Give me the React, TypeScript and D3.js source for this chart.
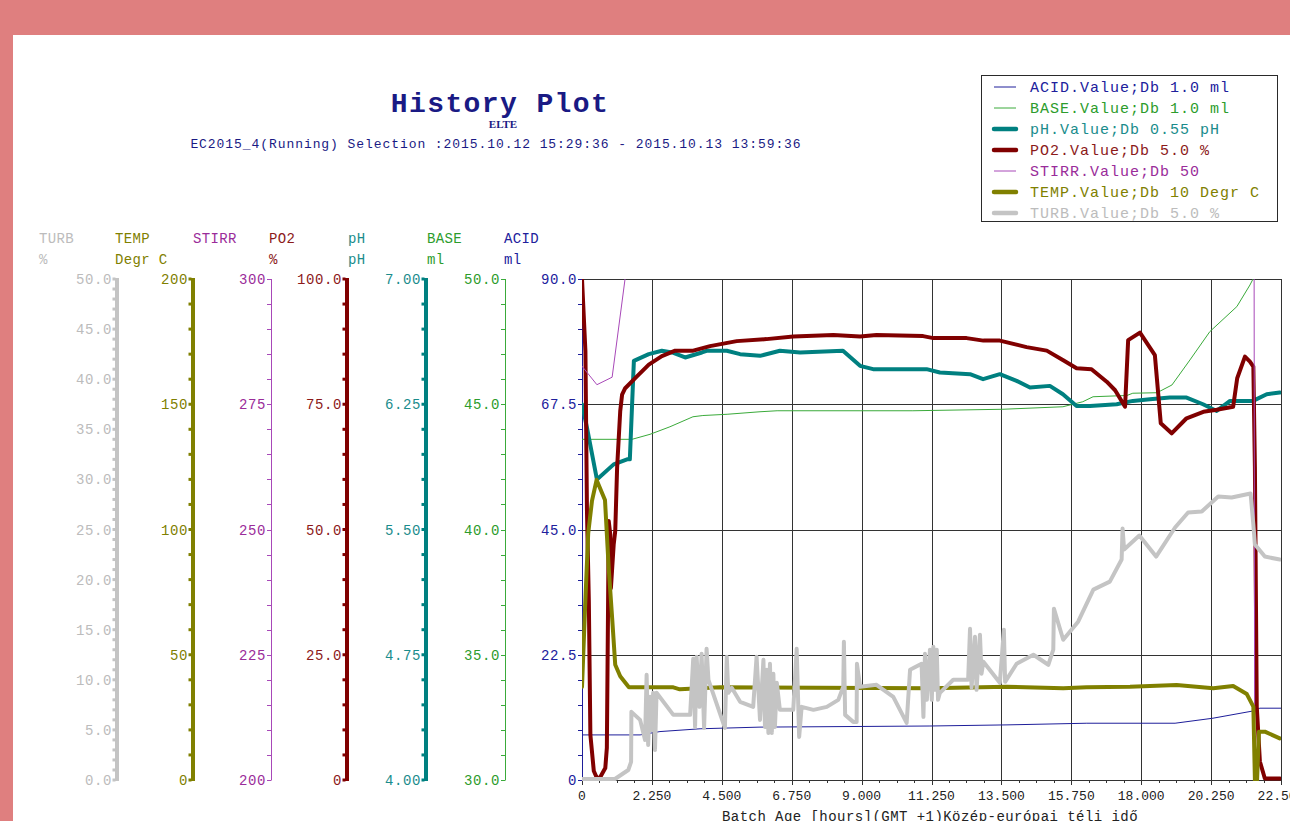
import React from "react";
import * as d3 from "d3";

type P = [number, number];

// ---------------- data ----------------
const X_TICKS = [0, 2.25, 4.5, 6.75, 9, 11.25, 13.5, 15.75, 18, 20.25, 22.5];
const X_TICK_LABELS = ["0", "2.250", "4.500", "6.750", "9.000", "11.250", "13.500", "15.750", "18.000", "20.250", "22.500"];
const X_MINOR_STEP = 0.5625;

const AXIS_NAMES = ["TURB", "TEMP", "STIRR", "PO2", "pH", "BASE", "ACID"];
const AXIS_UNITS = ["%", "Degr C", "", "%", "pH", "ml", "ml"];

const TURB_DOMAIN = [0, 50];
const TURB_TICKS = [0, 5, 10, 15, 20, 25, 30, 35, 40, 45, 50];
const TURB_LABELS = ["0.0", "5.0", "10.0", "15.0", "20.0", "25.0", "30.0", "35.0", "40.0", "45.0", "50.0"];
const TEMP_DOMAIN = [0, 200];
const TEMP_TICKS = [0, 50, 100, 150, 200];
const TEMP_LABELS = ["0", "50", "100", "150", "200"];
const STIRR_DOMAIN = [200, 300];
const STIRR_TICKS = [200, 225, 250, 275, 300];
const STIRR_LABELS = ["200", "225", "250", "275", "300"];
const PO2_DOMAIN = [0, 100];
const PO2_TICKS = [0, 25, 50, 75, 100];
const PO2_LABELS = ["0", "25.0", "50.0", "75.0", "100.0"];
const PH_DOMAIN = [4, 7];
const PH_TICKS = [4, 4.75, 5.5, 6.25, 7];
const PH_LABELS = ["4.00", "4.75", "5.50", "6.25", "7.00"];
const BASE_DOMAIN = [30, 50];
const BASE_TICKS = [30, 35, 40, 45, 50];
const BASE_LABELS = ["30.0", "35.0", "40.0", "45.0", "50.0"];
const ACID_DOMAIN = [0, 90];
const ACID_TICKS = [0, 22.5, 45, 67.5, 90];
const ACID_LABELS = ["0", "22.5", "45.0", "67.5", "90.0"];
const MINOR_STEPS = [1, 10, 5, 5, 0.15, 1, 4.5];

const LEGEND_LABELS = [
  "ACID.Value;Db 1.0 ml",
  "BASE.Value;Db 1.0 ml",
  "pH.Value;Db 0.55 pH",
  "PO2.Value;Db 5.0 %",
  "STIRR.Value;Db 50",
  "TEMP.Value;Db 10 Degr C",
  "TURB.Value;Db 5.0 %",
];

const ACID: P[] = [
  [0, 8.1], [1.87, 8.1], [2.51, 8.7], [3.8, 9.2], [5.73, 9.5], [11.2, 9.7], [13.68, 9.9],
  [16.25, 10.2], [19.09, 10.2], [20.31, 11.1], [21.6, 12.4], [21.82, 12.9], [22.5, 12.9],
];

const BASE: P[] = [
  [0, 43.6], [1.61, 43.6], [2.19, 43.8], [2.83, 44.1], [3.57, 44.5], [3.89, 44.55], [4.67, 44.6],
  [5.73, 44.7], [6.28, 44.74], [8.95, 44.74], [10.65, 44.74], [13.55, 44.8], [15.48, 44.9],
  [16.12, 45.1], [16.45, 45.3], [17.54, 45.35], [17.73, 45.44], [18.51, 45.46], [18.99, 45.77],
  [19.57, 46.77], [20.21, 47.9], [21.08, 48.9], [21.5, 49.76], [21.85, 50.6], [22.5, 51.5],
];

const PH: P[] = [
  [0, 6.25], [0.16, 6.11], [0.48, 5.8], [1.02, 5.89], [1.45, 5.92], [1.54, 5.92], [1.67, 6.51],
  [2.15, 6.55], [2.57, 6.57], [2.9, 6.56], [3.32, 6.53], [3.86, 6.56], [4.01, 6.57], [4.66, 6.57],
  [5.09, 6.55], [5.73, 6.54], [6.37, 6.57], [7.02, 6.56], [8.4, 6.57], [8.95, 6.48], [9.37, 6.46],
  [11.09, 6.46], [11.52, 6.44], [12.49, 6.43], [12.91, 6.4], [13.45, 6.43], [13.99, 6.39],
  [14.42, 6.35], [15.06, 6.36], [15.48, 6.31], [15.92, 6.24], [16.35, 6.24], [17.21, 6.25],
  [17.73, 6.27], [18.28, 6.28], [18.92, 6.29], [19.46, 6.29], [19.99, 6.25], [20.43, 6.21],
  [20.86, 6.27], [21.28, 6.27], [21.6, 6.27], [22.04, 6.31], [22.46, 6.32],
];

const PO2: P[] = [
  [0, 100], [0.11, 85.6], [0.16, 53.6], [0.22, 35.7], [0.27, 9.0], [0.38, 1.8], [0.48, 0.4],
  [0.58, 0.5], [0.75, 2.4], [0.8, 6.4], [0.84, 35.7], [0.86, 51.7], [0.91, 49.0], [0.93, 38.3],
  [1.02, 47.0], [1.07, 49.7], [1.13, 62.3], [1.23, 73.6], [1.29, 76.9], [1.39, 78.2], [1.76, 80.5],
  [2.15, 82.9], [2.57, 84.6], [3.0, 85.7], [3.58, 85.7], [4.12, 86.6], [4.98, 87.6], [5.94, 88.0],
  [6.8, 88.5], [8.09, 88.8], [8.95, 88.5], [9.48, 88.8], [10.98, 88.6], [11.31, 88.2],
  [12.38, 88.2], [12.92, 87.7], [13.45, 87.7], [14.31, 86.4], [14.96, 85.7], [15.49, 83.8],
  [15.92, 82.2], [16.4, 82.0], [16.89, 79.5], [17.16, 77.8], [17.48, 74.5], [17.58, 87.8],
  [17.96, 89.3], [18.44, 84.8], [18.63, 71.2], [18.98, 69.2], [19.46, 72.2], [20.0, 73.5],
  [20.43, 73.9], [20.96, 74.5], [21.09, 80.2], [21.34, 84.5], [21.5, 83.5], [21.61, 82.5],
  [21.66, 62.5], [21.72, 14.6], [21.82, 3.7], [21.98, 0.3], [22.47, 0.3],
];

const STIRR: P[] = [
  [0, 282.6], [0.48, 278.9], [0.97, 280.4], [1.39, 300.2], [1.6, 330], [21.63, 330],
  [21.66, 150], [22.5, 150],
];

const TEMP: P[] = [
  [0, 37.2], [0.1, 69.2], [0.2, 98.5], [0.32, 111.3], [0.47, 119.8], [0.74, 111.8], [0.86, 84.6],
  [0.97, 64.7], [1.07, 46.0], [1.23, 41.4], [1.51, 37.0], [2.94, 37.0], [3.15, 36.2], [4.44, 37.0],
  [11.2, 36.6], [13.67, 37.2], [15.49, 36.6], [16.24, 37.0], [17.64, 37.2], [19.14, 37.9],
  [20.32, 36.6], [20.96, 37.5], [21.4, 34.3], [21.61, 29.3], [21.66, 0], [21.73, 0], [21.79, 19.3],
  [21.98, 19.3], [22.46, 16.6],
];

const TURB: P[] = [
  [0, 0.1], [1.06, 0.1], [1.49, 1.0], [1.58, 1.8], [1.59, 6.8], [1.87, 6.0], [2.03, 4.0],
  [2.08, 10.5], [2.13, 3.5], [2.19, 8.3], [2.24, 5.0], [2.29, 8.7], [2.35, 3.0], [2.4, 8.7],
  [2.94, 6.5], [3.48, 6.5], [3.58, 12.1], [3.64, 5.3], [3.69, 12.3], [3.78, 7.3], [3.85, 12.6],
  [3.93, 5.2], [4.01, 13.1], [4.07, 10.0], [4.6, 5.2], [4.66, 12.3], [4.71, 8.7], [4.82, 9.2],
  [5.09, 7.8], [5.51, 7.3], [5.62, 12.3], [5.73, 6.0], [5.84, 12.0], [5.89, 5.3], [5.95, 11.0],
  [6.0, 4.7], [6.05, 11.6], [6.11, 4.7], [6.16, 10.6], [6.21, 5.3], [6.27, 9.7], [6.37, 7.0],
  [6.8, 7.0], [6.91, 13.1], [6.99, 4.3], [7.07, 7.3], [7.45, 7.0], [7.88, 7.3], [8.25, 8.0],
  [8.41, 9.3], [8.43, 13.8], [8.47, 6.5], [8.73, 5.8], [8.84, 5.8], [8.85, 11.6], [8.95, 9.3],
  [9.48, 9.5], [10.02, 8.3], [10.45, 5.7], [10.56, 11.0], [10.93, 11.6], [10.99, 6.3],
  [11.04, 12.6], [11.1, 8.0], [11.2, 13.0], [11.26, 8.0], [11.31, 13.3], [11.36, 9.0],
  [11.42, 13.0], [11.46, 8.0], [11.52, 8.7], [11.95, 10.0], [12.43, 10.0], [12.49, 15.1],
  [12.54, 9.2], [12.65, 14.3], [12.7, 9.0], [12.81, 14.5], [12.86, 10.6], [12.92, 11.8],
  [13.45, 9.7], [13.58, 15.0], [13.62, 9.8], [13.99, 11.6], [14.53, 12.5], [15.01, 11.5],
  [15.17, 13.0], [15.19, 17.1], [15.49, 14.0], [15.97, 15.8], [16.46, 19.0], [16.99, 19.8],
  [17.37, 22.0], [17.4, 25.1], [17.45, 23.0], [17.94, 24.4], [18.48, 22.3], [19.09, 25.2],
  [19.51, 26.7], [19.95, 26.8], [20.48, 28.3], [20.91, 28.2], [21.52, 28.6], [21.61, 25.5],
  [21.66, 23.5], [21.98, 22.3], [22.46, 22.0],
];

// ---------------- layout / style ----------------
const W = 1290;
const H = 821;
const PL = { left: 582, right: 1281, top: 279, bottom: 780 };
const AXIS_X = [117, 193, 271, 347, 426, 505, 582];
const FONT = "'Liberation Mono', 'Courier New', monospace";

const COLORS = {
  ACID: "#1e1e9a",
  BASE: "#3aaa3a",
  pH: "#008080",
  PO2: "#800000",
  STIRR: "#a848b8",
  TEMP: "#808000",
  TURB: "#c4c4c4",
};
const TEXT_COLORS = {
  ACID: "#20209c",
  BASE: "#2c9c2c",
  pH: "#1a8c8c",
  PO2: "#8c1a1a",
  STIRR: "#9a2c9a",
  TEMP: "#808000",
  TURB: "#bcbcbc",
};

export default function App() {
  const x = d3.scaleLinear().domain([0, 22.5]).range([PL.left, PL.right]);
  const yFor = (dom: number[]) => d3.scaleLinear().domain(dom).range([PL.bottom, PL.top]);

  const axisDefs = [
    { name: "TURB", domain: TURB_DOMAIN, ticks: TURB_TICKS, labels: TURB_LABELS, thick: true },
    { name: "TEMP", domain: TEMP_DOMAIN, ticks: TEMP_TICKS, labels: TEMP_LABELS, thick: true },
    { name: "STIRR", domain: STIRR_DOMAIN, ticks: STIRR_TICKS, labels: STIRR_LABELS, thick: false },
    { name: "PO2", domain: PO2_DOMAIN, ticks: PO2_TICKS, labels: PO2_LABELS, thick: true },
    { name: "pH", domain: PH_DOMAIN, ticks: PH_TICKS, labels: PH_LABELS, thick: true },
    { name: "BASE", domain: BASE_DOMAIN, ticks: BASE_TICKS, labels: BASE_LABELS, thick: false },
    { name: "ACID", domain: ACID_DOMAIN, ticks: ACID_TICKS, labels: ACID_LABELS, thick: false },
  ].map((a, i) => ({
    ...a,
    x: AXIS_X[i],
    unit: AXIS_UNITS[i],
    minor: d3.range(a.domain[0], a.domain[1] + 1e-6, MINOR_STEPS[i]),
    scale: yFor(a.domain),
    color: (COLORS as any)[a.name],
    textColor: (TEXT_COLORS as any)[a.name],
  }));

  const seriesDefs = [
    { name: "ACID", data: ACID, domain: ACID_DOMAIN, width: 1 },
    { name: "BASE", data: BASE, domain: BASE_DOMAIN, width: 1 },
    { name: "pH", data: PH, domain: PH_DOMAIN, width: 4 },
    { name: "PO2", data: PO2, domain: PO2_DOMAIN, width: 4 },
    { name: "STIRR", data: STIRR, domain: STIRR_DOMAIN, width: 1 },
    { name: "TEMP", data: TEMP, domain: TEMP_DOMAIN, width: 4 },
    { name: "TURB", data: TURB, domain: TURB_DOMAIN, width: 4 },
  ];

  const xMinor = d3.range(0, 22.5 + 1e-6, X_MINOR_STEP);
  const yGrid = ACID_TICKS.filter((t) => t > 0);
  const yAcid = yFor(ACID_DOMAIN);

  return (
    <div style={{ position: "fixed", left: 0, top: 0, width: W, height: H, overflow: "hidden" }}>
      <svg width={W} height={H} style={{ display: "block" }}>
        <defs>
          <clipPath id="plotClip">
            <rect x={PL.left} y={PL.top} width={PL.right - PL.left} height={PL.bottom - PL.top + 1} />
          </clipPath>
        </defs>
        {/* frame */}
        <rect x={0} y={0} width={W} height={H} fill="#df7f7f" />
        <rect x={13} y={35} width={W - 13} height={H - 35} fill="#ffffff" />

        {/* titles */}
        <text x={500} y={112} textAnchor="middle" fontFamily={FONT} fontWeight="bold" fontSize={28}
          letterSpacing={1.4} fill="#1a1a84">History Plot</text>
        <text x={503} y={128} textAnchor="middle" fontFamily="'Liberation Serif', serif" fontWeight="bold"
          fontSize={11} fill="#1a1a84">ELTE</text>
        <text x={496} y={148} textAnchor="middle" fontFamily={FONT} fontSize={13} letterSpacing={0.93}
          fill="#1a1a84">EC2015_4(Running) Selection :2015.10.12 15:29:36 - 2015.10.13 13:59:36</text>

        {/* legend */}
        <g>
          <rect x={981.5} y={75.5} width={296} height={146} fill="#fff" stroke="#2a2a2a" strokeWidth={1} />
          {seriesDefs.map((s, i) => {
            const yy = 87 + i * 21;
            return (
              <g key={s.name}>
                <line x1={994} x2={1016} y1={yy} y2={yy} stroke={(COLORS as any)[s.name]}
                  strokeWidth={s.width === 1 ? 1 : 4.5} strokeLinecap={s.width === 1 ? "butt" : "round"} />
                <text x={1030} y={yy + 5} fontFamily={FONT} fontSize={15} letterSpacing={1}
                  fill={(TEXT_COLORS as any)[s.name]}>{LEGEND_LABELS[i]}</text>
              </g>
            );
          })}
        </g>

        {/* left axes */}
        {axisDefs.map((a) => (
          <g key={a.name}>
            <text x={a.x - 78} y={243} fontFamily={FONT} fontSize={14} letterSpacing={0.35}
              fill={a.textColor}>{a.name}</text>
            <text x={a.x - 78} y={264} fontFamily={FONT} fontSize={14} letterSpacing={0.35}
              fill={a.textColor}>{a.unit}</text>
            {a.thick ? (
              <>
                <rect x={a.x - 2} y={PL.top - 1} width={4} height={PL.bottom - PL.top + 2} fill={a.color} />
                {a.minor.map((v, j) => (
                  <rect key={j} x={a.x - 4.5} y={a.scale(v) - 1.5} width={3} height={3} fill={a.color} />
                ))}
              </>
            ) : (
              <>
                <line x1={a.x + 0.5} x2={a.x + 0.5} y1={PL.top} y2={PL.bottom} stroke={a.color} strokeWidth={1} />
                {a.minor.map((v, j) => (
                  <line key={j} x1={a.x - 4} x2={a.x + 0.5} y1={Math.round(a.scale(v)) + 0.5}
                    y2={Math.round(a.scale(v)) + 0.5} stroke={a.color} strokeWidth={1} />
                ))}
              </>
            )}
            {a.ticks.map((t, j) => (
              <text key={j} x={a.x - 5} y={a.scale(t) + 5} textAnchor="end" fontFamily={FONT}
                fontSize={14} letterSpacing={0.6} fill={a.textColor}>{a.labels[j]}</text>
            ))}
          </g>
        ))}

        {/* grid */}
        <g stroke="#333" strokeWidth={1}>
          {X_TICKS.filter((t) => t > 0).map((t) => (
            <line key={t} x1={Math.round(x(t)) + 0.5} x2={Math.round(x(t)) + 0.5} y1={PL.top} y2={PL.bottom + 5} />
          ))}
          {yGrid.map((t) => (
            <line key={t} x1={PL.left} x2={PL.right} y1={Math.round(yAcid(t)) + 0.5} y2={Math.round(yAcid(t)) + 0.5} />
          ))}
          <line x1={PL.left} x2={PL.right + 1} y1={PL.bottom + 0.5} y2={PL.bottom + 0.5} />
          {xMinor.map((t, j) => (
            <line key={j} x1={Math.round(x(t)) + 0.5} x2={Math.round(x(t)) + 0.5} y1={PL.bottom} y2={PL.bottom + 3} />
          ))}
        </g>
        <line x1={PL.left + 0.5} x2={PL.left + 0.5} y1={PL.bottom} y2={PL.bottom + 5} stroke="#333" />

        {/* x labels */}
        {X_TICKS.map((t, i) => (
          <text key={t} x={x(t)} y={800} textAnchor="middle" fontFamily={FONT} fontSize={13}
            fill="#222">{X_TICK_LABELS[i]}</text>
        ))}
        <text x={930} y={821} textAnchor="middle" fontFamily={FONT} fontSize={14} letterSpacing={0.45}
          fill="#222">Batch Age [hours](GMT +1)Közép-európai téli idő</text>

        {/* series */}
        <g clipPath="url(#plotClip)">
          {seriesDefs.map((s) => {
            const y = yFor(s.domain);
            const line = d3.line<P>().x((d) => x(d[0])).y((d) => y(d[1]));
            return (
              <path key={s.name} d={line(s.data) || ""} fill="none" stroke={(COLORS as any)[s.name]}
                strokeWidth={s.width} strokeLinejoin="round" strokeLinecap="round" />
            );
          })}
        </g>
      </svg>
    </div>
  );
}
